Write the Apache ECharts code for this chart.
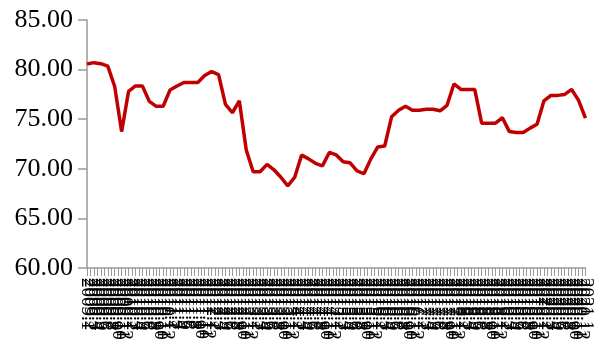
<!DOCTYPE html>
<html>
<head>
<meta charset="utf-8">
<script src="https://cdn.jsdelivr.net/npm/echarts@6/dist/echarts.min.js"></script>
<style>html,body{margin:0;padding:0;background:#fff}#c{width:595px;height:345px}</style>
</head>
<body>
<div id="c"></div>
<script>
// Category labels (monthly, unreadable in the reference; best guess)
const categories = [
"2009.1","2009.2","2009.3","2009.4","2009.5","2009.6","2009.7","2009.8","2009.9","2009.10","2009.11","2009.12",
"2010.1","2010.2","2010.3","2010.4","2010.5","2010.6","2010.7","2010.8","2010.9","2010.10","2010.11","2010.12",
"2011.1","2011.2","2011.3","2011.4","2011.5","2011.6","2011.7","2011.8","2011.9","2011.10","2011.11","2011.12",
"2012.1","2012.2","2012.3","2012.4","2012.5","2012.6","2012.7","2012.8","2012.9","2012.10","2012.11","2012.12",
"2013.1","2013.2","2013.3","2013.4","2013.5","2013.6","2013.7","2013.8","2013.9","2013.10","2013.11","2013.12",
"2014.1","2014.2","2014.3","2014.4","2014.5","2014.6","2014.7","2014.8","2014.9","2014.10","2014.11","2014.12",
"2015.1","2015.2","2015.3","2015.4","2015.5","2015.6","2015.7","2015.8","2015.9","2015.10","2015.11","2015.12",
"2016.1","2016.2","2016.3","2016.4","2016.5","2016.6","2016.7","2016.8","2016.9","2016.10","2016.11","2016.12",
"2017.1","2017.2","2017.3","2017.4","2017.5","2017.6","2017.7","2017.8","2017.9","2017.10","2017.11","2017.12",
"2018.1","2018.2","2018.3","2018.4","2018.5","2018.6","2018.7","2018.8","2018.9","2018.10","2018.11","2018.12",
"2019.1","2019.2","2019.3","2019.4","2019.5","2019.6","2019.7","2019.8","2019.9","2019.10","2019.11","2019.12",
"2020.1","2020.2","2020.3","2020.4","2020.5","2020.6","2020.7","2020.8","2020.9","2020.10","2020.11","2020.12",
"2021.1"
];
// Values read at every other category (null = no reading; line connects readings)
const values = [
80.56,null,80.70,null,80.60,null,80.35,null,78.30,null,73.75,null,77.80,null,78.35,null,78.35,null,76.80,null,
76.30,null,76.30,null,77.95,null,78.35,null,78.70,null,78.70,null,78.70,null,79.40,null,79.80,null,79.50,null,
76.50,null,75.65,null,76.85,null,71.90,null,69.70,null,69.70,null,70.45,null,69.90,null,69.15,null,68.27,null,
69.15,null,71.40,null,71.00,null,70.55,null,70.30,null,71.65,null,71.40,null,70.70,null,70.60,null,69.80,null,
69.50,null,71.00,null,72.20,null,72.30,null,75.25,null,75.90,null,76.30,null,75.90,null,75.90,null,76.00,null,
76.00,null,75.85,null,76.40,null,78.55,null,78.00,null,78.00,null,78.00,null,74.60,null,74.60,null,74.60,null,
75.15,null,73.75,null,73.65,null,73.65,null,74.10,null,74.50,null,76.85,null,77.40,null,77.40,null,77.50,null,
78.00,null,76.90,null,75.10
];
const yTicks = [60, 65, 70, 75, 80, 85];

const SERIF = '"Liberation Serif", "Times New Roman", Times, serif';
const chart = echarts.init(document.getElementById('c'), null, {renderer: 'canvas'});
chart.setOption({
  animation: false,
  grid: {left: 87, right: 0, top: 20, bottom: 77, containLabel: false},
  xAxis: {
    type: 'category',
    data: categories,
    boundaryGap: false,
    axisLine: {lineStyle: {color: '#999999', width: 1.5}},
    axisTick: {show: true, interval: 0, length: 8, lineStyle: {color: '#999999', width: 1}},
    axisLabel: {interval: 0, rotate: -90, margin: 10, color: '#000', fontFamily: SERIF, fontSize: 19},
    splitLine: {show: false}
  },
  yAxis: {
    type: 'value',
    min: yTicks[0],
    max: yTicks[yTicks.length - 1],
    interval: 5,
    axisLine: {show: true, lineStyle: {color: '#999999', width: 1.5}},
    axisTick: {show: true, length: 9, lineStyle: {color: '#999999', width: 1.5}},
    axisLabel: {color: '#000', fontFamily: SERIF, fontSize: 26, margin: 14,
      formatter: v => v.toFixed(2)},
    splitLine: {show: false}
  },
  series: [{
    type: 'line',
    data: values,
    connectNulls: true,
    showSymbol: false,
    symbol: 'none',
    lineStyle: {color: '#c00000', width: 3.5},
    itemStyle: {color: '#c00000'}
  }]
});
</script>
</body>
</html>
